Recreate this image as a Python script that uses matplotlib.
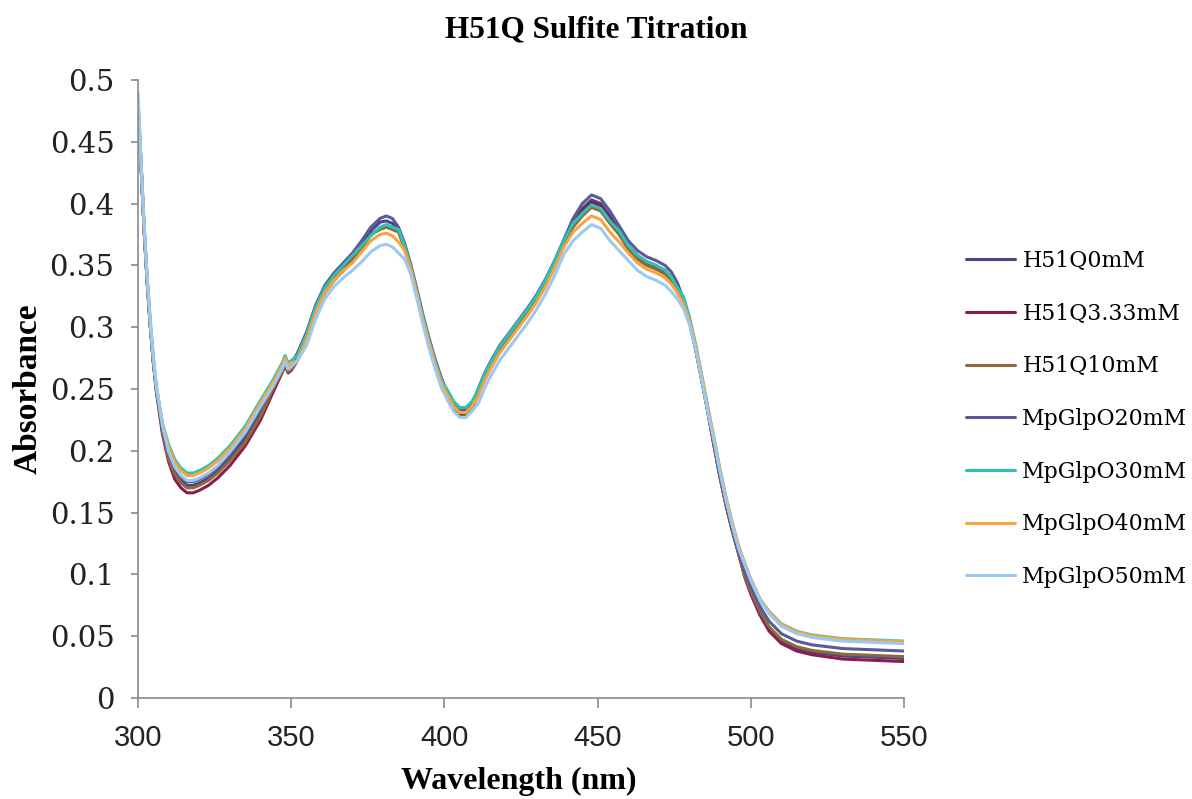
import numpy as np
import matplotlib
matplotlib.use("Agg")
import matplotlib.pyplot as plt

# wavelength grid (nm)
wl = [300, 301, 302, 303, 304, 305, 306, 308, 310, 312, 314, 316, 318, 320, 323, 326,
      330, 335, 340, 344, 347, 348, 349, 350, 352, 355, 358, 361, 364, 367, 370, 373,
      376, 379, 381, 383, 385, 387, 389, 391, 393, 395, 397, 399, 401, 403, 405, 407,
      409, 411, 413, 415, 418, 421, 424, 427, 430, 433, 436, 439, 442, 445, 448, 451,
      454, 457, 460, 463, 466, 469, 472, 474, 476, 478, 480, 482, 484, 486, 488, 490,
      492, 494, 496, 498, 500, 503, 506, 510, 515, 520, 530, 540, 550]

labels = ["H51Q0mM", "H51Q3.33mM", "H51Q10mM", "MpGlpO20mM",
          "MpGlpO30mM", "MpGlpO40mM", "MpGlpO50mM"]

h51q_0 = [0.478, 0.430, 0.378, 0.336, 0.301, 0.272, 0.249, 0.216, 0.195, 0.183, 0.176, 0.172,
          0.172, 0.174, 0.178, 0.184, 0.194, 0.210, 0.231, 0.251, 0.265, 0.272, 0.266, 0.268,
          0.276, 0.293, 0.315, 0.331, 0.341, 0.349, 0.357, 0.367, 0.378, 0.385, 0.386, 0.384,
          0.379, 0.366, 0.349, 0.329, 0.308, 0.289, 0.272, 0.257, 0.245, 0.236, 0.231, 0.231,
          0.236, 0.248, 0.260, 0.270, 0.283, 0.293, 0.303, 0.313, 0.324, 0.337, 0.352, 0.369,
          0.384, 0.396, 0.403, 0.400, 0.390, 0.378, 0.366, 0.358, 0.353, 0.350, 0.346, 0.341,
          0.332, 0.321, 0.304, 0.282, 0.257, 0.231, 0.204, 0.178, 0.155, 0.135, 0.117, 0.099,
          0.086, 0.070, 0.056, 0.046, 0.040, 0.037, 0.034, 0.033, 0.032]

h51q_333 = [0.478, 0.430, 0.378, 0.336, 0.301, 0.271, 0.248, 0.213, 0.191, 0.177, 0.170, 0.166,
            0.166, 0.168, 0.172, 0.178, 0.188, 0.204, 0.225, 0.247, 0.263, 0.269, 0.263, 0.265,
            0.273, 0.290, 0.312, 0.328, 0.338, 0.346, 0.354, 0.364, 0.375, 0.380, 0.382, 0.380,
            0.378, 0.365, 0.348, 0.328, 0.307, 0.288, 0.271, 0.256, 0.244, 0.235, 0.230, 0.230,
            0.235, 0.247, 0.259, 0.269, 0.282, 0.292, 0.302, 0.312, 0.323, 0.336, 0.351, 0.368,
            0.382, 0.394, 0.401, 0.398, 0.388, 0.376, 0.364, 0.356, 0.351, 0.348, 0.344, 0.339,
            0.330, 0.321, 0.304, 0.282, 0.257, 0.231, 0.204, 0.178, 0.155, 0.135, 0.117, 0.098,
            0.084, 0.067, 0.054, 0.044, 0.038, 0.035, 0.0315, 0.0305, 0.0295]

h51q_10 = [0.478, 0.430, 0.378, 0.336, 0.301, 0.272, 0.249, 0.215, 0.193, 0.181, 0.174, 0.170,
           0.170, 0.172, 0.176, 0.182, 0.192, 0.207, 0.228, 0.250, 0.264, 0.270, 0.264, 0.266,
           0.273, 0.290, 0.312, 0.328, 0.338, 0.346, 0.354, 0.364, 0.375, 0.379, 0.381, 0.379,
           0.377, 0.364, 0.347, 0.327, 0.306, 0.287, 0.270, 0.255, 0.242, 0.233, 0.228, 0.228,
           0.233, 0.246, 0.258, 0.268, 0.281, 0.291, 0.301, 0.311, 0.322, 0.335, 0.350, 0.367,
           0.381, 0.390, 0.397, 0.394, 0.384, 0.375, 0.363, 0.355, 0.350, 0.347, 0.343, 0.338,
           0.329, 0.321, 0.304, 0.282, 0.257, 0.231, 0.204, 0.178, 0.155, 0.135, 0.117, 0.099,
           0.086, 0.070, 0.0575, 0.0475, 0.0415, 0.0385, 0.0355, 0.0345, 0.0335]

mpglpo_20 = [0.478, 0.430, 0.378, 0.336, 0.301, 0.272, 0.249, 0.218, 0.198, 0.186, 0.179, 0.175,
             0.175, 0.177, 0.181, 0.187, 0.197, 0.213, 0.234, 0.254, 0.268, 0.274, 0.268, 0.270,
             0.279, 0.296, 0.318, 0.334, 0.344, 0.352, 0.360, 0.370, 0.381, 0.388, 0.390, 0.388,
             0.381, 0.368, 0.351, 0.331, 0.310, 0.291, 0.274, 0.259, 0.247, 0.238, 0.233, 0.233,
             0.238, 0.250, 0.262, 0.272, 0.285, 0.295, 0.305, 0.315, 0.326, 0.339, 0.354, 0.371,
             0.388, 0.400, 0.407, 0.404, 0.394, 0.382, 0.370, 0.362, 0.357, 0.354, 0.350, 0.345,
             0.336, 0.323, 0.306, 0.284, 0.259, 0.233, 0.206, 0.180, 0.157, 0.137, 0.119, 0.103,
             0.090, 0.074, 0.062, 0.052, 0.046, 0.043, 0.040, 0.039, 0.038]

mpglpo_30 = [0.482, 0.434, 0.382, 0.340, 0.305, 0.275, 0.252, 0.222, 0.205, 0.193, 0.186, 0.182,
             0.182, 0.184, 0.188, 0.194, 0.204, 0.220, 0.241, 0.257, 0.271, 0.277, 0.271, 0.273,
             0.277, 0.294, 0.316, 0.332, 0.342, 0.350, 0.358, 0.366, 0.374, 0.381, 0.383, 0.381,
             0.379, 0.366, 0.349, 0.329, 0.308, 0.289, 0.272, 0.257, 0.249, 0.240, 0.235, 0.235,
             0.240, 0.249, 0.261, 0.271, 0.284, 0.294, 0.304, 0.314, 0.325, 0.338, 0.353, 0.370,
             0.384, 0.392, 0.399, 0.396, 0.386, 0.378, 0.366, 0.358, 0.353, 0.350, 0.346, 0.341,
             0.332, 0.325, 0.308, 0.286, 0.261, 0.235, 0.210, 0.184, 0.161, 0.141, 0.123, 0.109,
             0.096, 0.080, 0.070, 0.060, 0.054, 0.051, 0.048, 0.047, 0.046]

mpglpo_40 = [0.480, 0.432, 0.380, 0.338, 0.303, 0.274, 0.251, 0.221, 0.203, 0.191, 0.184, 0.180,
             0.180, 0.182, 0.186, 0.192, 0.202, 0.218, 0.239, 0.255, 0.269, 0.275, 0.269, 0.271,
             0.273, 0.290, 0.312, 0.328, 0.338, 0.346, 0.352, 0.361, 0.370, 0.375, 0.376, 0.374,
             0.369, 0.362, 0.347, 0.327, 0.306, 0.287, 0.270, 0.255, 0.245, 0.236, 0.231, 0.231,
             0.236, 0.244, 0.256, 0.266, 0.279, 0.289, 0.299, 0.309, 0.320, 0.333, 0.348, 0.365,
             0.377, 0.384, 0.390, 0.387, 0.377, 0.369, 0.360, 0.352, 0.347, 0.344, 0.340, 0.335,
             0.328, 0.319, 0.305, 0.285, 0.260, 0.234, 0.210, 0.184, 0.161, 0.141, 0.123, 0.109,
             0.096, 0.080, 0.0695, 0.0595, 0.0535, 0.0505, 0.0475, 0.0465, 0.0455]

mpglpo_50 = [0.490, 0.434, 0.382, 0.340, 0.305, 0.276, 0.253, 0.220, 0.199, 0.187, 0.180, 0.176,
             0.176, 0.178, 0.182, 0.188, 0.199, 0.215, 0.236, 0.252, 0.266, 0.272, 0.266, 0.268,
             0.273, 0.285, 0.307, 0.323, 0.333, 0.340, 0.346, 0.353, 0.361, 0.366, 0.367, 0.365,
             0.360, 0.355, 0.343, 0.323, 0.302, 0.283, 0.266, 0.251, 0.241, 0.232, 0.227, 0.227,
             0.232, 0.238, 0.250, 0.260, 0.273, 0.283, 0.293, 0.303, 0.314, 0.327, 0.342, 0.359,
             0.370, 0.377, 0.383, 0.380, 0.370, 0.362, 0.354, 0.346, 0.341, 0.338, 0.334, 0.329,
             0.323, 0.315, 0.302, 0.282, 0.257, 0.231, 0.208, 0.182, 0.159, 0.139, 0.121, 0.108,
             0.095, 0.079, 0.068, 0.058, 0.052, 0.049, 0.046, 0.045, 0.044]

series = [h51q_0, h51q_333, h51q_10, mpglpo_20, mpglpo_30, mpglpo_40, mpglpo_50]
colors = ["#46468C", "#8C1C4C", "#8C6A3C", "#5B5A94", "#2EC2B5", "#F7A43E", "#9CC9F4"]

fig = plt.figure(figsize=(11.92, 7.99), dpi=100)
ax = fig.add_axes([0.1158, 0.1264, 0.6426, 0.7735])

for ys, c, lab in zip(series, colors, labels):
    ax.plot(wl, ys, color=c, lw=2.2, label=lab, solid_capstyle="round")

ax.set_xlim(300, 550)
ax.set_ylim(0, 0.5)
ax.set_xticks([300, 350, 400, 450, 500, 550])
ax.set_yticks([0, 0.05, 0.1, 0.15, 0.2, 0.25, 0.3, 0.35, 0.4, 0.45, 0.5])
ax.set_yticklabels(["0", "0.05", "0.1", "0.15", "0.2", "0.25", "0.3", "0.35", "0.4", "0.45", "0.5"])

for s in ["top", "right"]:
    ax.spines[s].set_visible(False)
for s in ["left", "bottom"]:
    ax.spines[s].set_color("#8a8a8a")
    ax.spines[s].set_linewidth(1.2)

ax.tick_params(axis="y", direction="out", length=5, width=1.2, color="#8a8a8a", pad=12)
ax.tick_params(axis="x", direction="out", length=7, width=1.2, color="#8a8a8a", pad=12)
for t in ax.get_yticklabels():
    t.set_fontfamily("DejaVu Serif")
    t.set_fontsize(21)
    t.set_color("#222222")
for t in ax.get_xticklabels():
    t.set_fontfamily("Liberation Sans")
    t.set_fontsize(21)
    t.set_color("#222222")

fig.text(0.5, 0.962, "H51Q Sulfite Titration", ha="center", va="center",
         fontfamily="Liberation Serif", fontweight="bold", fontsize=22.5)
fig.text(0.435, 0.022, "Wavelength (nm)", ha="center", va="center",
         fontfamily="Liberation Serif", fontweight="bold", fontsize=23)
fig.text(0.024, 0.514, "Absorbance", ha="center", va="center", rotation=90,
         fontfamily="Liberation Serif", fontweight="bold", fontsize=24)

fig.legend(loc="center left", bbox_to_anchor=(0.8015, 0.4756), frameon=False,
           prop={"family": "DejaVu Serif", "size": 15.8}, handlelength=2.2,
           handletextpad=0.35, labelspacing=1.4, borderpad=0)

fig.savefig("out.png", dpi=100)
